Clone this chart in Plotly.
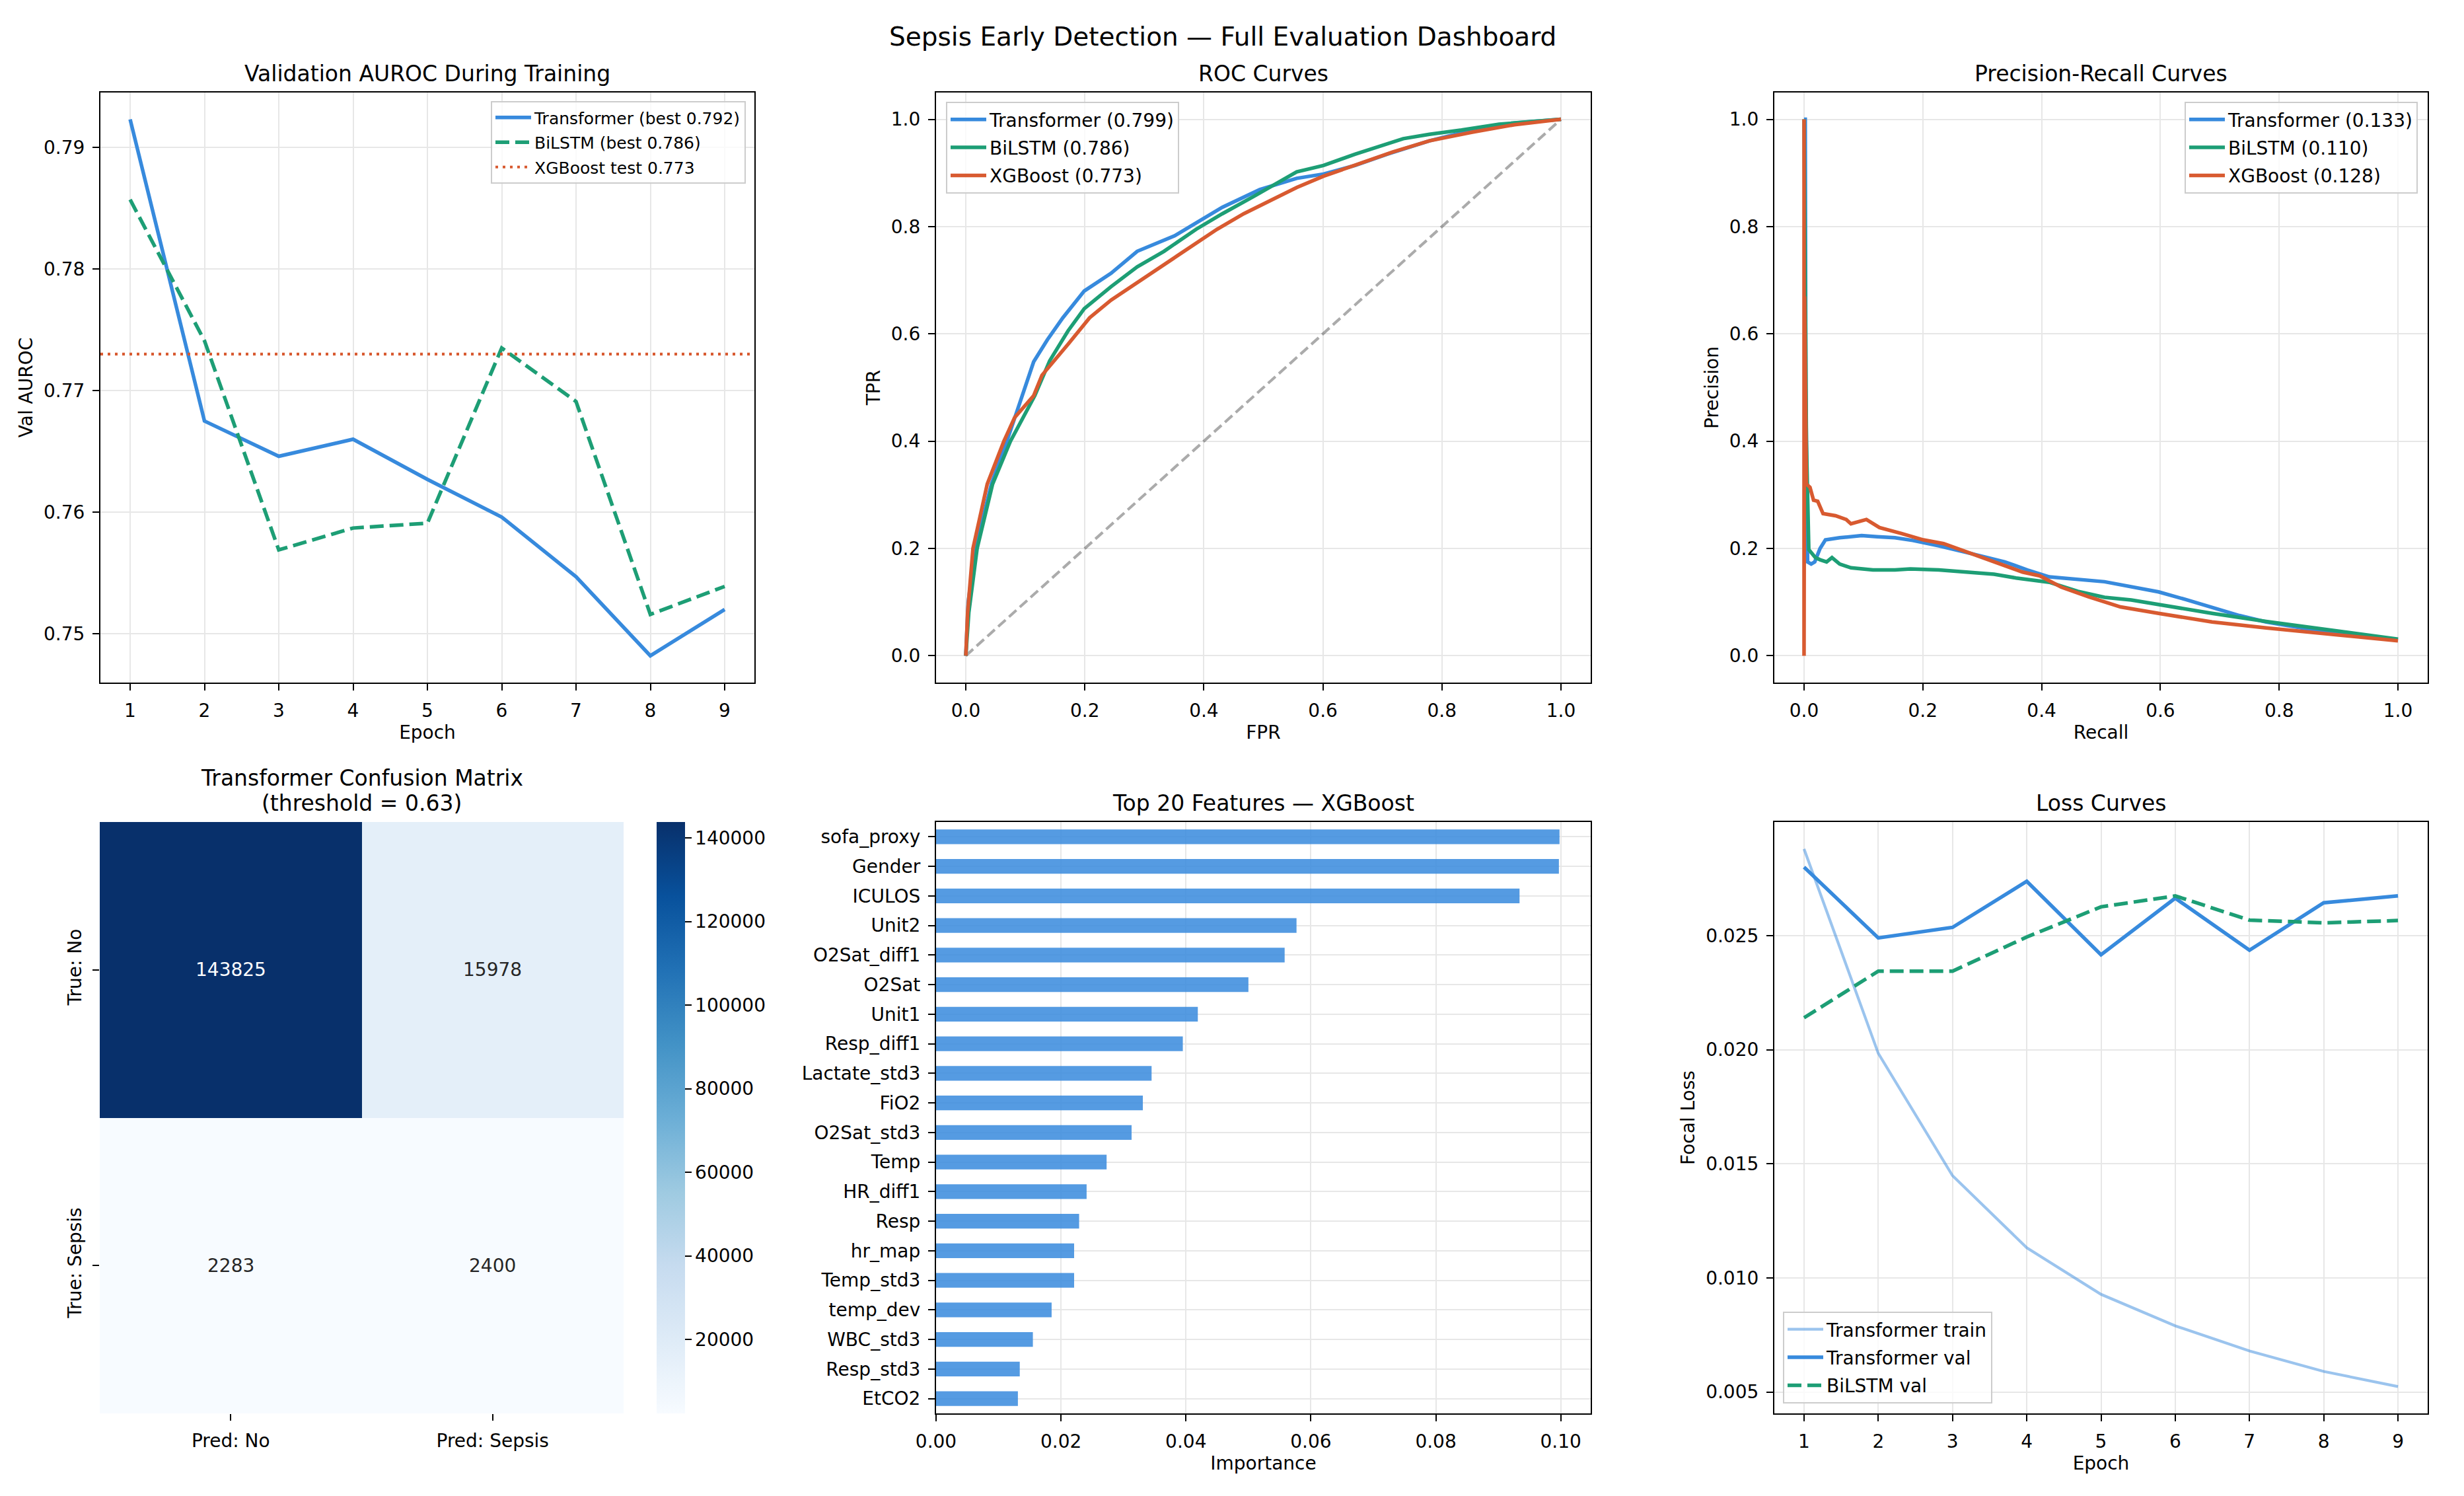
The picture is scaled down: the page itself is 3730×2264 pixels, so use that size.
import plotly.graph_objects as go

W, H = 3730, 2264
FONT = "DejaVu Sans"

# ---------------- data ----------------
epochs = [1, 2, 3, 4, 5, 6, 7, 8, 9]
transformer_val_auroc = [0.7923, 0.7675, 0.7646, 0.7660, 0.7627, 0.7596, 0.7547, 0.7482, 0.7520]
bilstm_val_auroc = [0.7857, 0.7741, 0.7569, 0.7587, 0.7591, 0.7735, 0.7691, 0.7516, 0.7539]
xgboost_test_auroc = 0.773

roc_transformer_fpr = [0.0, 0.004, 0.016, 0.043, 0.069, 0.094, 0.101, 0.114, 0.137, 0.163, 0.199, 0.244, 0.288,
                       0.351, 0.387, 0.431, 0.494, 0.556, 0.601, 0.654, 0.708, 0.779, 0.851, 0.922, 1.0]
roc_transformer_tpr = [0.0, 0.10, 0.2, 0.32, 0.4, 0.485, 0.507, 0.548, 0.589, 0.630, 0.680, 0.713, 0.754,
                       0.783, 0.807, 0.836, 0.869, 0.890, 0.898, 0.914, 0.935, 0.960, 0.980, 0.993, 1.0]
roc_bilstm_fpr = [0.0, 0.005, 0.019, 0.045, 0.075, 0.116, 0.141, 0.172, 0.199, 0.244, 0.288, 0.333, 0.387,
                  0.431, 0.485, 0.556, 0.601, 0.654, 0.735, 0.779, 0.833, 0.896, 1.0]
roc_bilstm_tpr = [0.0, 0.08, 0.2, 0.32, 0.4, 0.485, 0.55, 0.606, 0.647, 0.688, 0.725, 0.754, 0.795,
                  0.824, 0.857, 0.902, 0.914, 0.935, 0.964, 0.972, 0.980, 0.991, 1.0]
roc_xgboost_fpr = [0.0, 0.003, 0.012, 0.036, 0.064, 0.082, 0.114, 0.128, 0.172, 0.208, 0.244, 0.288, 0.333,
                   0.378, 0.422, 0.467, 0.512, 0.556, 0.601, 0.654, 0.717, 0.779, 0.851, 0.922, 1.0]
roc_xgboost_tpr = [0.0, 0.08, 0.2, 0.32, 0.4, 0.444, 0.485, 0.523, 0.581, 0.630, 0.663, 0.696, 0.729,
                   0.762, 0.795, 0.824, 0.849, 0.873, 0.894, 0.914, 0.939, 0.960, 0.976, 0.990, 1.0]
auc_transformer, auc_bilstm, auc_xgboost = 0.799, 0.786, 0.773

pr_transformer_recall = [0.0, 0.002, 0.003, 0.004, 0.006, 0.012, 0.018, 0.027, 0.036, 0.06, 0.097, 0.123, 0.153,
                         0.183, 0.227, 0.283, 0.338, 0.376, 0.413, 0.506, 0.551, 0.597, 0.642, 0.687, 0.733,
                         0.778, 0.823, 0.869, 1.0]
pr_transformer_precision = [1.0, 1.0, 0.5, 0.3, 0.175, 0.171, 0.175, 0.2, 0.216, 0.22, 0.224, 0.222, 0.22,
                            0.215, 0.205, 0.19, 0.175, 0.16, 0.147, 0.138, 0.128, 0.119, 0.105, 0.091, 0.075,
                            0.063, 0.054, 0.046, 0.030]
pr_bilstm_recall = [0.0, 0.003, 0.004, 0.008, 0.014, 0.019, 0.027, 0.038, 0.047, 0.06, 0.079, 0.116, 0.153,
                    0.179, 0.227, 0.283, 0.32, 0.357, 0.413, 0.461, 0.506, 0.551, 0.597, 0.687, 0.778, 0.869, 1.0]
pr_bilstm_precision = [1.0, 0.5, 0.40, 0.198, 0.19, 0.183, 0.179, 0.175, 0.183, 0.171, 0.164, 0.16, 0.16,
                       0.162, 0.16, 0.156, 0.152, 0.145, 0.137, 0.120, 0.109, 0.104, 0.095, 0.079, 0.064, 0.050, 0.031]
pr_xgboost_recall = [0.0, 0.0, 0.001, 0.004, 0.01, 0.016, 0.023, 0.032, 0.053, 0.071, 0.079, 0.105, 0.127,
                     0.164, 0.201, 0.235, 0.283, 0.324, 0.368, 0.397, 0.433, 0.479, 0.533, 0.597, 0.687,
                     0.778, 0.869, 1.0]
pr_xgboost_precision = [1.0, 0.0, 0.67, 0.32, 0.314, 0.29, 0.288, 0.265, 0.261, 0.254, 0.246, 0.254, 0.239,
                        0.228, 0.216, 0.209, 0.19, 0.175, 0.156, 0.149, 0.128, 0.110, 0.091, 0.079, 0.063,
                        0.052, 0.042, 0.028]
ap_transformer, ap_bilstm, ap_xgboost = 0.133, 0.110, 0.128

cm_pred_labels = ["Pred: No", "Pred: Sepsis"]
cm_true_labels = ["True: No", "True: Sepsis"]
cm_values = [[143825, 15978], [2283, 2400]]
cm_threshold = 0.63
cm_colorbar_ticks = [20000, 40000, 60000, 80000, 100000, 120000, 140000]

feature_names = ["sofa_proxy", "Gender", "ICULOS", "Unit2", "O2Sat_diff1", "O2Sat", "Unit1", "Resp_diff1",
                 "Lactate_std3", "FiO2", "O2Sat_std3", "Temp", "HR_diff1", "Resp", "hr_map", "Temp_std3",
                 "temp_dev", "WBC_std3", "Resp_std3", "EtCO2"]
feature_importance = [0.0998, 0.0997, 0.0934, 0.0577, 0.0558, 0.0500, 0.0419, 0.0395, 0.0345, 0.0331,
                      0.0313, 0.0273, 0.0241, 0.0229, 0.0221, 0.0221, 0.0185, 0.0155, 0.0134, 0.0131]

transformer_train_loss = [0.0288, 0.01984, 0.01448, 0.01132, 0.00928, 0.0079, 0.0068, 0.0059, 0.00524]
transformer_val_loss = [0.0280, 0.0249, 0.02536, 0.02738, 0.02416, 0.02664, 0.02436, 0.02644, 0.02674]
bilstm_val_loss = [0.0214, 0.02344, 0.02344, 0.02494, 0.02626, 0.02674, 0.02568, 0.02556, 0.02566]

# ---------------- style ----------------
BLUE = "rgb(55,138,221)"
BLUE_LIGHT = "rgba(55,138,221,0.5)"
BAR = "rgba(55,138,221,0.85)"
GREEN = "rgb(29,158,117)"
ORANGE = "rgb(216,90,48)"
GRID = "rgb(231,231,231)"
BLUES = ["#f7fbff", "#deebf7", "#c6dbef", "#9ecae1", "#6baed6", "#4292c6", "#2171b5", "#08519c", "#08306b"]
DASH = "21px,9px"


def dx(l, r):
    return [l / W, r / W]


def dy(t, b):
    return [1 - b / H, 1 - t / H]


def px_x(p):
    return p / W


def px_y(p):
    return 1 - p / H


def lim(vals, m=0.05):
    lo, hi = min(vals), max(vals)
    d = (hi - lo) * m
    return [lo - d, hi + d]


def axis(domain, anchor, title=None, **kw):
    d = dict(domain=domain, anchor=anchor, automargin=False, showline=True, linecolor="black", linewidth=2.2,
             mirror=True, ticks="outside", ticklen=10, tickwidth=2.2, tickcolor="black",
             showgrid=True, gridcolor=GRID, gridwidth=2.2, zeroline=False,
             tickfont=dict(size=28, color="black", family=FONT), ticklabelstandoff=6)
    if title:
        d["title"] = dict(text=title, font=dict(size=28, color="black", family=FONT), standoff=8)
    d.update(kw)
    return d


fig = go.Figure()

# ---- panel 1: validation AUROC ----
fig.add_trace(go.Scatter(x=epochs, y=transformer_val_auroc, mode="lines",
                         line=dict(color=BLUE, width=5.5),
                         name=f"Transformer (best {max(transformer_val_auroc):.3f})",
                         xaxis="x", yaxis="y", legend="legend", legendgroup="a1"))
fig.add_trace(go.Scatter(x=epochs, y=bilstm_val_auroc, mode="lines",
                         line=dict(color=GREEN, width=5.5, dash=DASH),
                         name=f"BiLSTM (best {max(bilstm_val_auroc):.3f})",
                         xaxis="x", yaxis="y", legend="legend", legendgroup="a2"))
fig.add_trace(go.Scatter(x=[0.6, 9.4], y=[xgboost_test_auroc, xgboost_test_auroc], mode="lines",
                         line=dict(color=ORANGE, width=4.2, dash="4px,7px"),
                         name=f"XGBoost test {xgboost_test_auroc:.3f}",
                         xaxis="x", yaxis="y", legend="legend", legendgroup="a3"))

# ---- panel 2: ROC ----
fig.add_trace(go.Scatter(x=[0, 1], y=[0, 1], mode="lines",
                         line=dict(color="rgba(0,0,0,0.33)", width=4.2, dash="15px,7px"),
                         showlegend=False, xaxis="x2", yaxis="y2"))
for fpr, tpr, col, nm, g in [(roc_transformer_fpr, roc_transformer_tpr, BLUE, f"Transformer ({auc_transformer:.3f})", "b1"),
                             (roc_bilstm_fpr, roc_bilstm_tpr, GREEN, f"BiLSTM ({auc_bilstm:.3f})", "b2"),
                             (roc_xgboost_fpr, roc_xgboost_tpr, ORANGE, f"XGBoost ({auc_xgboost:.3f})", "b3")]:
    fig.add_trace(go.Scatter(x=fpr, y=tpr, mode="lines", line=dict(color=col, width=5.5), name=nm,
                             xaxis="x2", yaxis="y2", legend="legend2", legendgroup=g))

# ---- panel 3: PR ----
for rec, prec, col, nm, g in [(pr_transformer_recall, pr_transformer_precision, BLUE, f"Transformer ({ap_transformer:.3f})", "c1"),
                              (pr_bilstm_recall, pr_bilstm_precision, GREEN, f"BiLSTM ({ap_bilstm:.3f})", "c2"),
                              (pr_xgboost_recall, pr_xgboost_precision, ORANGE, f"XGBoost ({ap_xgboost:.3f})", "c3")]:
    fig.add_trace(go.Scatter(x=rec, y=prec, mode="lines", line=dict(color=col, width=5.5), name=nm,
                             xaxis="x3", yaxis="y3", legend="legend3", legendgroup=g))

# ---- panel 4: confusion matrix ----
zflat = [v for row in cm_values for v in row]
zmin, zmax = min(zflat), max(zflat)
fig.add_trace(go.Heatmap(z=cm_values, x=[0, 1], y=[0, 1], colorscale=[[i / 8, c] for i, c in enumerate(BLUES)],
                         zmin=zmin, zmax=zmax, xaxis="x4", yaxis="y4", showscale=True,
                         colorbar=dict(x=px_x(994), xanchor="left", y=px_y(1244), yanchor="top",
                                       len=(2139 - 1244) / H, lenmode="fraction", thickness=43,
                                       xpad=0, ypad=0, outlinewidth=0, ticks="outside", ticklen=10,
                                       tickwidth=2.2, tickcolor="black", tickvals=cm_colorbar_ticks,
                                       tickformat="d", tickfont=dict(size=28, color="black", family=FONT))))

# ---- panel 5: feature importance ----
fig.add_trace(go.Bar(x=feature_importance, y=feature_names, orientation="h", width=0.5,
                     marker=dict(color=BAR, line=dict(width=0)), showlegend=False,
                     xaxis="x5", yaxis="y5"))

# ---- panel 6: loss ----
fig.add_trace(go.Scatter(x=epochs, y=transformer_train_loss, mode="lines", line=dict(color=BLUE_LIGHT, width=4.2),
                         name="Transformer train", xaxis="x6", yaxis="y6", legend="legend4", legendgroup="d1"))
fig.add_trace(go.Scatter(x=epochs, y=transformer_val_loss, mode="lines", line=dict(color=BLUE, width=5.5),
                         name="Transformer val", xaxis="x6", yaxis="y6", legend="legend4", legendgroup="d2"))
fig.add_trace(go.Scatter(x=epochs, y=bilstm_val_loss, mode="lines", line=dict(color=GREEN, width=5.5, dash=DASH),
                         name="BiLSTM val", xaxis="x6", yaxis="y6", legend="legend4", legendgroup="d3"))

# ---------------- layout ----------------
R1 = (140, 1033)
R2 = (1244, 2139)
C1 = (152, 1142)
C2 = (1417, 2408)
C3 = (2686, 3675)
CM = (151, 944)

ep_range = lim(epochs)
unit_range = [-0.05, 1.05]

legend_common = dict(bgcolor="rgba(255,255,255,0.8)", bordercolor="rgb(204,204,204)", borderwidth=2,
                     font=dict(size=28, color="black", family=FONT), tracegroupgap=3, itemwidth=54)

annotations = []


def title_ann(text, cx, bottom, size=33):
    annotations.append(dict(text=text, x=px_x(cx), y=px_y(bottom), xref="paper", yref="paper",
                            xanchor="center", yanchor="bottom", showarrow=False,
                            font=dict(size=size, color="black", family=FONT)))


title_ann("Validation AUROC During Training", sum(C1) / 2, R1[0] - 7)
title_ann("ROC Curves", sum(C2) / 2, R1[0] - 7)
title_ann("Precision-Recall Curves", sum(C3) / 2, R1[0] - 7)
title_ann("Transformer Confusion Matrix", sum(CM) / 2, R2[0] - 7 - 38)
title_ann(f"(threshold = {cm_threshold:.2f})", sum(CM) / 2, R2[0] - 7)
title_ann("Top 20 Features — XGBoost", sum(C2) / 2, R2[0] - 7)
title_ann("Loss Curves", sum(C3) / 2, R2[0] - 7)
annotations.append(dict(text="Sepsis Early Detection — Full Evaluation Dashboard", x=px_x(1851), y=px_y(80),
                        xref="paper", yref="paper", xanchor="center", yanchor="bottom", showarrow=False,
                        font=dict(size=39, color="black", family=FONT)))

# heatmap cell annotations
thr = (zmin + zmax) / 2
for i, row in enumerate(cm_values):
    for j, v in enumerate(row):
        annotations.append(dict(text=str(v), x=j, y=i, xref="x4", yref="y4", showarrow=False,
                                font=dict(size=28, family=FONT,
                                          color="white" if v > thr else "rgb(38,38,38)")))

fig.update_layout(
    template="none",
    width=W, height=H, margin=dict(l=0, r=0, t=0, b=0, autoexpand=False),
    paper_bgcolor="white", plot_bgcolor="white",
    font=dict(family=FONT, color="black"),
    annotations=annotations,
    xaxis=axis(dx(*C1), "y", "Epoch", range=ep_range, tickvals=epochs),
    yaxis=axis(dy(*R1), "x", "Val AUROC", range=lim(transformer_val_auroc + bilstm_val_auroc),
               tickvals=[0.75, 0.76, 0.77, 0.78, 0.79], tickformat=".2f"),
    xaxis2=axis(dx(*C2), "y2", "FPR", range=unit_range, dtick=0.2, tick0=0, tickformat=".1f"),
    yaxis2=axis(dy(*R1), "x2", "TPR", range=unit_range, dtick=0.2, tick0=0, tickformat=".1f"),
    xaxis3=axis(dx(*C3), "y3", "Recall", range=unit_range, dtick=0.2, tick0=0, tickformat=".1f"),
    yaxis3=axis(dy(*R1), "x3", "Precision", range=unit_range, dtick=0.2, tick0=0, tickformat=".1f"),
    xaxis4=axis(dx(*CM), "y4", None, range=[-0.5, 1.5], tickvals=[0, 1], ticktext=cm_pred_labels,
                showline=False, showgrid=False),
    yaxis4=axis(dy(*R2), "x4", None, range=[1.5, -0.5], tickvals=[0, 1], ticktext=cm_true_labels,
                showline=False, showgrid=False, tickangle=-90),
    xaxis5=axis(dx(*C2), "y5", "Importance", range=[0, max(feature_importance) * 1.05],
                dtick=0.02, tick0=0, tickformat=".2f"),
    yaxis5=axis(dy(*R2), "x5", None, type="category", categoryorder="array", categoryarray=feature_names,
                range=[len(feature_names) - 0.5, -0.5]),
    xaxis6=axis(dx(*C3), "y6", "Epoch", range=ep_range, tickvals=epochs),
    yaxis6=axis(dy(*R2), "x6", "Focal Loss", range=lim(transformer_train_loss + transformer_val_loss + bilstm_val_loss),
                tickvals=[0.005, 0.010, 0.015, 0.020, 0.025], tickformat=".3f"),
    legend=dict(legend_common, x=px_x(1129), xanchor="right", y=px_y(153), yanchor="top", tracegroupgap=2,
                font=dict(size=25, color="black", family=FONT)),
    legend2=dict(legend_common, x=px_x(1432), xanchor="left", y=px_y(154), yanchor="top"),
    legend3=dict(legend_common, x=px_x(3660), xanchor="right", y=px_y(154), yanchor="top"),
    legend4=dict(legend_common, x=px_x(2699), xanchor="left", y=px_y(2124), yanchor="bottom"),
)

fig.write_html("out.html")
